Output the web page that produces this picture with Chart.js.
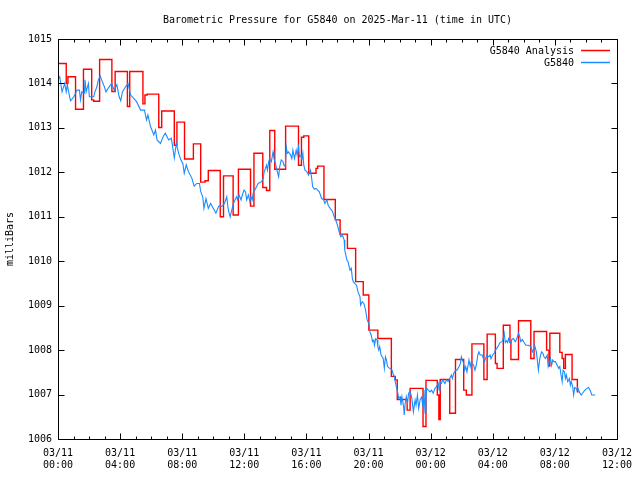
<!DOCTYPE html>
<html><head><meta charset="utf-8">
<script src="https://cdn.jsdelivr.net/npm/chart.js@4/dist/chart.umd.min.js"></script>
<style>html,body{margin:0;padding:0;background:#fff}canvas{display:block}</style>
</head><body>
<canvas id="c" width="640" height="480"></canvas>
<script>
const chartTitle = 'Barometric Pressure for G5840 on 2025-Mar-11 (time in UTC)';
const yAxisTitle = 'milliBars';
const seriesNames = ['G5840 Analysis', 'G5840'];
const xTickDates = ['03/11', '03/12'];

// Hours since 03/11 00:00 UTC, step series (value holds until next time)
const redTimes = [0, 0.53, 0.64, 1.13, 1.64, 2.17, 2.30, 2.68, 3.47, 3.68,
  4.47, 4.62, 5.47, 5.60, 5.74, 6.49, 6.68, 7.49, 7.66, 8.15,
  8.72, 9.19, 9.47, 9.68, 10.45, 10.66, 11.28, 11.62, 12.40, 12.62,
  13.19, 13.43, 13.64, 13.96, 14.66, 15.49, 15.68, 15.83, 16.15, 16.62,
  16.72, 17.13, 17.86, 18.17, 18.64, 19.17, 19.66, 20.02, 20.60, 21.47,
  21.72, 21.85, 22.49, 22.68, 23.51, 23.70, 24.43, 24.53, 24.62, 25.23,
  25.60, 26.13, 26.30, 26.66, 27.43, 27.64, 28.17, 28.28, 28.68, 29.11,
  29.17, 29.66, 30.45, 30.66, 31.47, 31.62, 31.68, 32.32, 32.47, 32.57,
  32.68, 33.11, 33.45, 33.53];
const redValues = [1014.45, 1014.00, 1014.15, 1013.42, 1014.32, 1013.63, 1013.60, 1014.54, 1013.82, 1014.27,
  1013.48, 1014.27, 1013.54, 1013.74, 1013.76, 1013.01, 1013.38, 1012.61, 1013.13, 1012.30,
  1012.64, 1011.78, 1011.81, 1012.04, 1011.00, 1011.92, 1011.04, 1012.07, 1011.24, 1012.43,
  1011.66, 1011.59, 1012.94, 1012.07, 1013.04, 1012.16, 1012.79, 1012.82, 1011.98, 1012.09,
  1012.14, 1011.39, 1010.93, 1010.61, 1010.29, 1009.54, 1009.24, 1008.45, 1008.26, 1007.41,
  1007.33, 1006.89, 1006.65, 1007.14, 1006.28, 1007.32, 1006.99, 1006.44, 1007.34, 1006.58,
  1007.79, 1007.10, 1006.99, 1008.14, 1007.34, 1008.36, 1007.70, 1007.59, 1008.56, 1008.17,
  1007.79, 1008.66, 1007.81, 1008.42, 1008.00, 1007.64, 1008.38, 1007.95, 1007.81, 1007.59,
  1007.90, 1007.34, 1007.06, 1007.06];

const blueTimes = [0.02, 0.11, 0.26, 0.43, 0.53, 0.60, 0.75, 0.81, 1.02, 1.23,
  1.38, 1.45, 1.53, 1.70, 1.74, 1.81, 1.96, 2.02, 2.30, 2.38,
  2.51, 2.60, 2.72, 2.81, 2.98, 3.09, 3.23, 3.45, 3.62, 3.79,
  3.94, 4.04, 4.15, 4.36, 4.51, 4.68, 4.89, 5.06, 5.32, 5.57,
  5.70, 5.79, 5.96, 6.17, 6.28, 6.38, 6.60, 6.77, 6.91, 7.13,
  7.30, 7.40, 7.49, 7.62, 7.77, 7.91, 8.04, 8.13, 8.26, 8.40,
  8.62, 8.77, 8.94, 9.11, 9.19, 9.32, 9.40, 9.53, 9.68, 9.83,
  10.00, 10.17, 10.34, 10.45, 10.55, 10.72, 10.87, 10.94, 11.02, 11.09,
  11.19, 11.30, 11.40, 11.51, 11.57, 11.66, 11.79, 11.87, 11.98, 12.08,
  12.15, 12.26, 12.36, 12.43, 12.51, 12.57, 12.68, 12.79, 12.89, 13.00,
  13.11, 13.21, 13.28, 13.36, 13.43, 13.49, 13.57, 13.64, 13.74, 13.85,
  13.91, 14.00, 14.13, 14.21, 14.28, 14.38, 14.49, 14.55, 14.64, 14.70,
  14.77, 14.85, 14.98, 15.06, 15.13, 15.23, 15.34, 15.40, 15.49, 15.55,
  15.66, 15.70, 15.77, 15.83, 15.91, 16.04, 16.13, 16.26, 16.34, 16.40,
  16.51, 16.62, 16.72, 16.83, 16.98, 17.11, 17.19, 17.32, 17.40, 17.53,
  17.68, 17.79, 17.89, 18.00, 18.11, 18.21, 18.32, 18.43, 18.47, 18.60,
  18.68, 18.75, 18.81, 18.89, 18.96, 19.02, 19.11, 19.23, 19.32, 19.45,
  19.49, 19.60, 19.70, 19.81, 19.91, 20.02, 20.09, 20.17, 20.26, 20.34,
  20.38, 20.47, 20.55, 20.60, 20.66, 20.72, 20.81, 20.94, 21.02, 21.09,
  21.15, 21.23, 21.36, 21.51, 21.57, 21.66, 21.72, 21.79, 21.87, 21.94,
  22.04, 22.09, 22.15, 22.26, 22.30, 22.36, 22.43, 22.51, 22.58, 22.68,
  22.79, 22.89, 23.00, 23.06, 23.15, 23.23, 23.32, 23.43, 23.49, 23.57,
  23.64, 23.70, 23.74, 23.85, 23.96, 24.06, 24.17, 24.28, 24.38, 24.49,
  24.55, 24.60, 24.70, 24.77, 24.85, 24.92, 25.02, 25.13, 25.23, 25.34,
  25.40, 25.49, 25.62, 25.70, 25.83, 25.92, 25.98, 26.04, 26.13, 26.19,
  26.26, 26.34, 26.47, 26.55, 26.62, 26.68, 26.77, 26.85, 26.94, 27.04,
  27.11, 27.19, 27.32, 27.40, 27.47, 27.53, 27.62, 27.74, 27.83, 27.89,
  28.00, 28.11, 28.17, 28.26, 28.38, 28.47, 28.60, 28.68, 28.74, 28.81,
  28.89, 28.96, 29.02, 29.11, 29.17, 29.23, 29.32, 29.45, 29.53, 29.66,
  29.74, 29.81, 29.91, 30.02, 30.13, 30.30, 30.45, 30.55, 30.66, 30.72,
  30.81, 30.87, 30.94, 31.02, 31.08, 31.15, 31.23, 31.30, 31.40, 31.51,
  31.57, 31.66, 31.72, 31.79, 31.87, 31.94, 32.04, 32.15, 32.25, 32.32,
  32.40, 32.47, 32.53, 32.62, 32.68, 32.74, 32.83, 32.94, 33.00, 33.06,
  33.15, 33.21, 33.28, 33.36, 33.43, 33.49, 33.57, 33.70, 33.79, 33.91,
  34.06, 34.17, 34.28, 34.38, 34.60];
const blueValues = [1014.10, 1014.15, 1013.81, 1014.00, 1013.81, 1013.97, 1013.70, 1013.61, 1013.70, 1013.85,
  1013.85, 1013.63, 1013.81, 1013.78, 1014.08, 1013.81, 1014.00, 1013.70, 1013.70, 1013.81,
  1013.93, 1014.08, 1014.17, 1014.08, 1013.93, 1013.81, 1013.89, 1014.00, 1013.85, 1013.97,
  1013.70, 1013.61, 1013.81, 1013.93, 1014.00, 1013.74, 1013.66, 1013.59, 1013.40, 1013.40,
  1013.18, 1013.29, 1013.03, 1012.84, 1012.95, 1012.73, 1012.65, 1012.80, 1012.88, 1012.73,
  1012.77, 1012.54, 1012.32, 1012.65, 1012.43, 1012.28, 1012.20, 1011.98, 1012.17, 1012.02,
  1011.87, 1011.69, 1011.75, 1011.75, 1011.57, 1011.45, 1011.19, 1011.41, 1011.19, 1011.30,
  1011.19, 1011.08, 1011.23, 1011.26, 1011.23, 1011.30, 1011.45, 1011.23, 1011.08, 1011.00,
  1011.15, 1011.30, 1011.38, 1011.45, 1011.38, 1011.49, 1011.38, 1011.49, 1011.60, 1011.56,
  1011.38, 1011.49, 1011.34, 1011.45, 1011.38, 1011.53, 1011.60, 1011.68, 1011.75, 1011.77,
  1011.79, 1011.86, 1012.01, 1012.09, 1012.16, 1012.05, 1012.24, 1012.31, 1012.24, 1012.46,
  1012.31, 1012.20, 1012.01, 1011.90, 1012.13, 1012.28, 1012.24, 1012.16, 1012.13, 1012.58,
  1012.43, 1012.46, 1012.39, 1012.31, 1012.50, 1012.31, 1012.50, 1012.39, 1012.58, 1012.35,
  1012.39, 1012.28, 1012.43, 1012.16, 1012.05, 1012.01, 1011.94, 1012.05, 1011.86, 1011.68,
  1011.62, 1011.64, 1011.60, 1011.56, 1011.41, 1011.38, 1011.30, 1011.38, 1011.26, 1011.19,
  1011.12, 1011.00, 1010.93, 1010.81, 1010.66, 1010.55, 1010.59, 1010.48, 1010.25, 1010.03,
  1009.99, 1009.88, 1009.80, 1009.84, 1009.61, 1009.54, 1009.50, 1009.46, 1009.31, 1009.20,
  1009.01, 1009.09, 1009.05, 1008.90, 1008.68, 1008.60, 1008.41, 1008.34, 1008.19, 1008.23,
  1008.11, 1008.26, 1008.23, 1008.08, 1008.00, 1008.08, 1007.89, 1007.82, 1007.59, 1007.85,
  1007.78, 1007.63, 1007.59, 1007.55, 1007.48, 1007.40, 1007.29, 1007.18, 1007.06, 1006.92,
  1006.95, 1006.76, 1006.95, 1006.73, 1006.54, 1006.80, 1006.95, 1006.80, 1007.03, 1007.07,
  1006.92, 1006.61, 1006.88, 1006.76, 1006.99, 1006.69, 1006.88, 1006.95, 1006.73, 1007.10,
  1006.58, 1006.88, 1007.14, 1007.10, 1007.06, 1007.10, 1007.03, 1007.14, 1007.18, 1007.25,
  1007.10, 1007.29, 1007.25, 1007.33, 1007.29, 1007.25, 1007.33, 1007.29, 1007.36, 1007.44,
  1007.36, 1007.48, 1007.55, 1007.55, 1007.63, 1007.70, 1007.85, 1007.78, 1007.70, 1007.55,
  1007.63, 1007.51, 1007.78, 1007.63, 1007.74, 1007.70, 1007.66, 1007.55, 1007.66, 1007.89,
  1007.96, 1007.89, 1007.89, 1007.81, 1007.74, 1007.81, 1007.89, 1007.85, 1007.89, 1007.81,
  1007.89, 1007.94, 1008.00, 1008.04, 1008.11, 1008.17, 1008.19, 1008.26, 1008.38, 1008.17,
  1008.21, 1008.17, 1008.26, 1008.19, 1008.15, 1008.24, 1008.26, 1008.19, 1008.24, 1008.38,
  1008.30, 1008.19, 1008.24, 1008.17, 1008.11, 1008.11, 1008.08, 1007.96, 1008.04, 1008.08,
  1007.96, 1007.78, 1007.55, 1007.78, 1007.89, 1007.96, 1007.93, 1007.85, 1007.81, 1007.89,
  1007.63, 1007.74, 1007.81, 1007.66, 1007.78, 1007.74, 1007.74, 1007.66, 1007.59, 1007.63,
  1007.44, 1007.29, 1007.55, 1007.51, 1007.36, 1007.44, 1007.29, 1007.36, 1007.21, 1007.29,
  1007.18, 1006.99, 1007.16, 1007.14, 1007.10, 1007.14, 1007.06, 1006.99, 1007.03, 1007.09,
  1007.14, 1007.16, 1007.09, 1006.99, 1006.99];

const seriesColors = ['#ff0000', '#1a8cff'];
const FONT = "'DejaVu Sans Mono', 'Liberation Mono', monospace";

const redPts = redTimes.map((t, i) => ({x: t, y: redValues[i]}));
const bluePts = blueTimes.map((t, i) => ({x: t, y: blueValues[i]}));

function pad2(n) { return (n < 10 ? '0' : '') + n; }

const decorPlugin = {
  id: 'decor',
  afterDraw(chart) {
    const {ctx, chartArea: a, scales: {x, y}} = chart;
    ctx.save();
    ctx.strokeStyle = '#000';
    ctx.lineWidth = 1;
    const L = Math.round(a.left) + 0.5, R = Math.round(a.right) + 0.5;
    const T = Math.round(a.top) + 0.5, B = Math.round(a.bottom) + 0.5;
    ctx.beginPath();
    for (let h = x.min; h <= x.max; h += 1) {
      const px = Math.round(x.getPixelForValue(h)) + 0.5;
      const len = (h % 4 === 0) ? 6 : 3;
      ctx.moveTo(px, B); ctx.lineTo(px, B - len);
      ctx.moveTo(px, T); ctx.lineTo(px, T + len);
    }
    for (let v = y.min; v <= y.max; v += 1) {
      const py = Math.round(y.getPixelForValue(v)) + 0.5;
      ctx.moveTo(L, py); ctx.lineTo(L + 6, py);
      ctx.moveTo(R, py); ctx.lineTo(R - 6, py);
    }
    ctx.rect(L, T, R - L, B - T);
    ctx.stroke();

    ctx.fillStyle = '#000';
    ctx.font = '10px ' + FONT;
    ctx.textBaseline = 'middle';
    ctx.textAlign = 'center';
    ctx.fillText(chartTitle, (a.left + a.right) / 2, 20);

    ctx.textAlign = 'right';
    seriesNames.forEach((name, i) => {
      const ly = 50 + i * 12;
      ctx.fillStyle = '#000';
      ctx.fillText(name, 574, ly + 1);
      ctx.strokeStyle = seriesColors[i];
      ctx.lineWidth = 1.5;
      ctx.beginPath();
      ctx.moveTo(581, ly + 0.5);
      ctx.lineTo(610, ly + 0.5);
      ctx.stroke();
    });
    ctx.restore();
  }
};

new Chart(document.getElementById('c'), {
  type: 'line',
  data: {
    datasets: [
      { label: seriesNames[0], data: redPts, borderColor: seriesColors[0], backgroundColor: seriesColors[0],
        borderWidth: 1.4, stepped: true, pointRadius: 0, order: 1, fill: false },
      { label: seriesNames[1], data: bluePts, borderColor: seriesColors[1], backgroundColor: seriesColors[1],
        borderWidth: 1.1, pointRadius: 0, tension: 0, order: 0, fill: false }
    ]
  },
  options: {
    responsive: false,
    animation: false,
    events: [],
    layout: { padding: { top: 39, right: 18, left: 0, bottom: 0 } },
    plugins: { legend: { display: false }, title: { display: false }, tooltip: { enabled: false } },
    scales: {
      x: {
        type: 'linear', min: 0, max: 36,
        afterFit(s) { s.height = 41; },
        grid: { display: false, drawTicks: false },
        border: { display: false },
        ticks: {
          stepSize: 4, autoSkip: false, maxRotation: 0, minRotation: 0, padding: 8,
          color: '#000', font: { family: FONT, size: 10, lineHeight: 1.25 },
          callback(v) {
            const d = Math.floor(v / 24);
            return [xTickDates[d] || xTickDates[xTickDates.length - 1], pad2(v % 24) + ':00'];
          }
        }
      },
      y: {
        type: 'linear', min: 1006, max: 1015,
        afterFit(s) { s.width = 58; },
        grid: { display: false, drawTicks: false },
        border: { display: false },
        title: { display: true, text: yAxisTitle, color: '#000',
                 font: { family: FONT, size: 10 }, padding: { top: 4, bottom: 0 } },
        ticks: { stepSize: 1, padding: 6, color: '#000', font: { family: FONT, size: 10 },
                 callback(v) { return String(v); } }
      }
    }
  },
  plugins: [decorPlugin]
});
</script>
</body></html>
